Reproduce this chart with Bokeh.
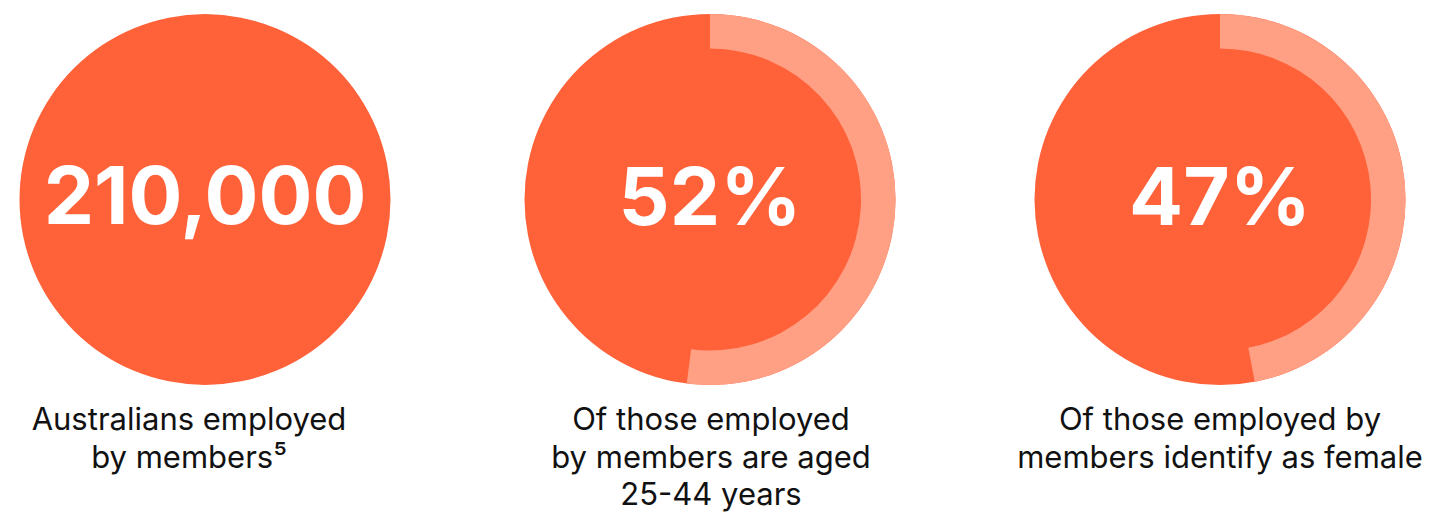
import math
from bokeh.plotting import figure
from bokeh.models import Range1d
from bokeh.core.properties import value
from bokeh.embed import file_html
from bokeh.resources import INLINE

# ---- data ----
big_labels = ["210,000", "52%", "47%"]
shares = [None, 0.52, 0.47]  # share shown by the light ring (None = plain circle)
captions = [
    ["Australians employed", "by members\u2075"],
    ["Of those employed", "by members are aged", "25-44 years"],
    ["Of those employed by", "members identify as female"],
]

# ---- style / layout ----
W, H = 1439, 524
DARK = "#FF6139"
LIGHT = "#FFA085"
R_OUT = 185.5
R_IN = 151
CY = H - 199
CENTERS_X = [204.5, 709.5, 1219.5]
CAPTION_SHIFT = [-16, 1, 0]
FONT = "Inter"
BIG_SIZE = 80
CAP_SIZE = 31
BASE_FIX = 0.38  # bokeh svg baseline offset compensation (fraction of font size)

p = figure(width=W, height=H, output_backend="svg", toolbar_location=None,
           x_range=Range1d(0, W), y_range=Range1d(0, H), min_border=0)
p.axis.visible = False
p.grid.visible = False
p.outline_line_color = None
p.background_fill_color = "white"
p.border_fill_color = "white"

cxs = CENTERS_X

p.circle(x=cxs, y=[CY] * len(cxs), radius=R_OUT, fill_color=DARK, line_color=None)

for cx, s in zip(cxs, shares):
    if s is None:
        continue
    p.annular_wedge(x=[cx], y=[CY], inner_radius=R_IN, outer_radius=R_OUT,
                    start_angle=math.pi / 2, end_angle=math.pi / 2 - 2 * math.pi * s,
                    direction="clock", fill_color=LIGHT, line_color=None)

p.text(x=cxs, y=[H - (225 - BASE_FIX * BIG_SIZE)] * len(cxs), text=big_labels,
       text_color="white", text_font=value(FONT), text_font_style="bold",
       text_font_size=f"{BIG_SIZE}px", text_align="center", text_baseline="alphabetic")

for cx, shift, lines in zip(cxs, CAPTION_SHIFT, captions):
    ys = [H - (430 + 37.5 * k - BASE_FIX * CAP_SIZE) for k in range(len(lines))]
    p.text(x=[cx + shift] * len(lines), y=ys, text=lines, text_color="#111111",
           text_font=value(FONT), text_font_style="normal",
           text_font_size=f"{CAP_SIZE}px", text_align="center", text_baseline="alphabetic")

open("out.html", "w").write(file_html(p, INLINE))
